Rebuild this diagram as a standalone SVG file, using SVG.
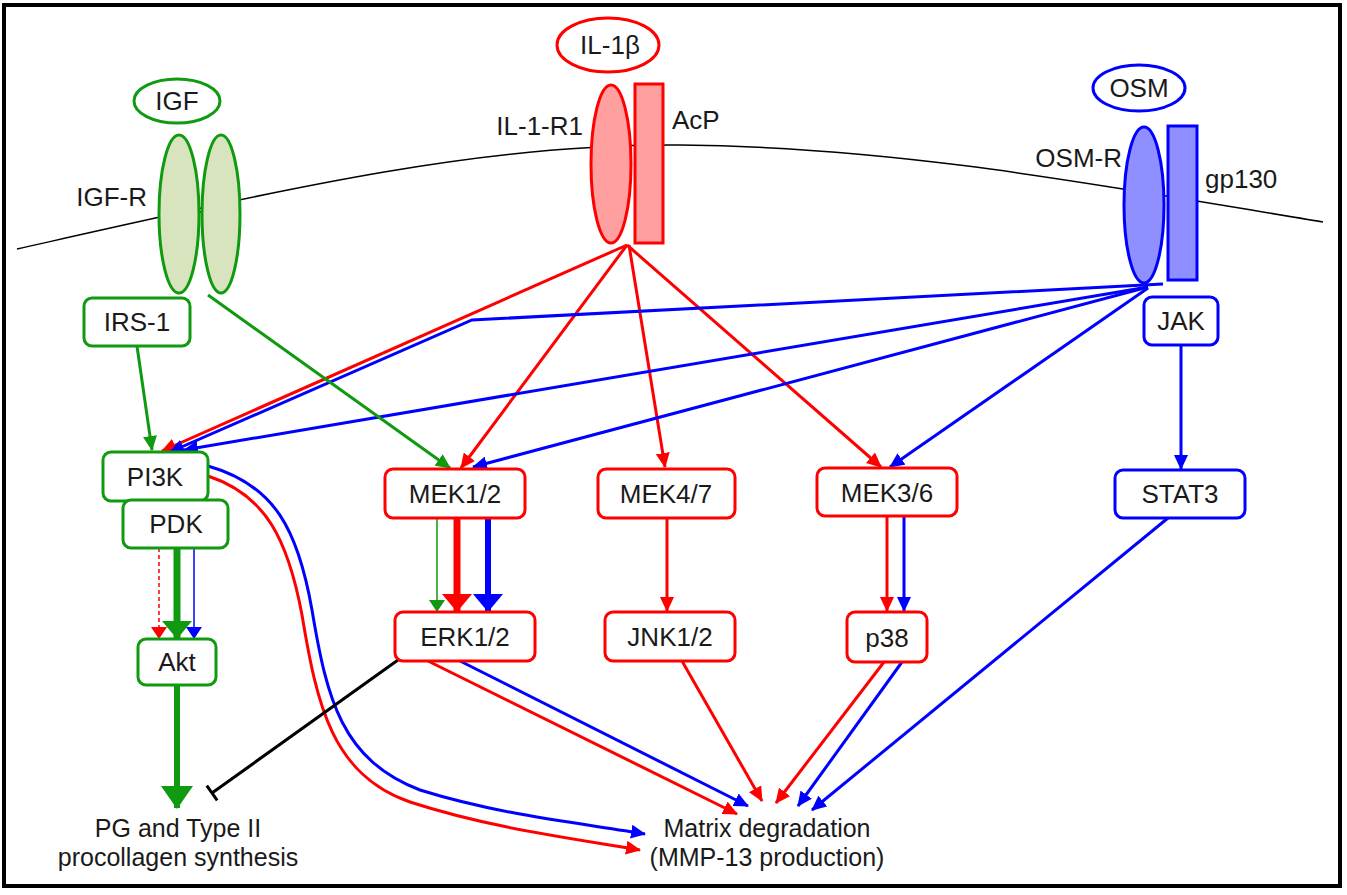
<svg xmlns="http://www.w3.org/2000/svg" width="1347" height="895" viewBox="0 0 1347 895">
<style>
text{font-family:"Liberation Sans",Arial,sans-serif;font-size:26px;fill:#1a1a1a}
.c{text-anchor:middle}
.e{text-anchor:end}
.out{font-size:25px}
.bx{fill:#fff;stroke-width:3}
.g{stroke:#109a10}
.r{stroke:#ff0000}
.b{stroke:#0000ff}
.ln{fill:none;stroke-width:3}
</style>
<defs>
<marker id="ar" markerUnits="userSpaceOnUse" markerWidth="16" markerHeight="14" refX="14" refY="7" orient="auto"><path d="M0,0L15,7L0,14z" fill="#ff0000"/></marker>
<marker id="ab" markerUnits="userSpaceOnUse" markerWidth="16" markerHeight="14" refX="14" refY="7" orient="auto"><path d="M0,0L15,7L0,14z" fill="#0000ff"/></marker>
<marker id="ag" markerUnits="userSpaceOnUse" markerWidth="16" markerHeight="14" refX="14" refY="7" orient="auto"><path d="M0,0L15,7L0,14z" fill="#109a10"/></marker>
<marker id="sr" markerUnits="userSpaceOnUse" markerWidth="12" markerHeight="16" refX="11" refY="8" orient="auto"><path d="M0,0L12,8L0,16z" fill="#ff0000"/></marker>
<marker id="sb" markerUnits="userSpaceOnUse" markerWidth="12" markerHeight="16" refX="11" refY="8" orient="auto"><path d="M0,0L12,8L0,16z" fill="#0000ff"/></marker>
<marker id="sg" markerUnits="userSpaceOnUse" markerWidth="12" markerHeight="16" refX="11" refY="8" orient="auto"><path d="M0,0L12,8L0,16z" fill="#109a10"/></marker>
<marker id="br" markerUnits="userSpaceOnUse" markerWidth="18" markerHeight="30" refX="17" refY="15" orient="auto"><path d="M0,0L18,15L0,30z" fill="#ff0000"/></marker>
<marker id="bb" markerUnits="userSpaceOnUse" markerWidth="18" markerHeight="30" refX="17" refY="15" orient="auto"><path d="M0,0L18,15L0,30z" fill="#0000ff"/></marker>
<marker id="bg" markerUnits="userSpaceOnUse" markerWidth="18" markerHeight="30" refX="17" refY="15" orient="auto"><path d="M0,0L18,15L0,30z" fill="#109a10"/></marker>
<marker id="hg" markerUnits="userSpaceOnUse" markerWidth="23" markerHeight="32" refX="22" refY="16" orient="auto"><path d="M0,0L23,16L0,32z" fill="#109a10"/></marker>
</defs>
<rect x="4" y="5" width="1336" height="881" fill="#fff" stroke="#000" stroke-width="4"/>
<g id="membrane"><path d="M17,249 C 280,190 480,143 680,145 C 900,147 1100,185 1323,222" fill="none" stroke="#000" stroke-width="1.5"/></g>

<g id="connectors">
<line class="ln r" x1="627" y1="245" x2="162" y2="451" marker-end="url(#ar)"/>
<line class="ln r" x1="627" y1="245" x2="461" y2="468" marker-end="url(#ar)"/>
<line class="ln r" x1="629" y1="245" x2="665" y2="467" marker-end="url(#ar)"/>
<line class="ln r" x1="627" y1="245" x2="881" y2="467" marker-end="url(#ar)"/>
<polyline class="ln b" points="1163,284 472,320 170,452" marker-end="url(#ab)"/>
<line class="ln b" x1="1148" y1="287" x2="184" y2="450" marker-end="url(#ab)"/>
<line class="ln b" x1="1148" y1="287" x2="473" y2="467" marker-end="url(#ab)"/>
<line class="ln b" x1="1148" y1="288" x2="890" y2="467" marker-end="url(#ab)"/>
<line class="ln b" x1="1181" y1="345" x2="1181" y2="469" marker-end="url(#ab)"/>
<line class="ln g" x1="137" y1="346" x2="152" y2="450" marker-end="url(#ag)"/>
<line class="ln g" x1="208" y1="295" x2="450" y2="468" marker-end="url(#ag)"/>
<line class="r" x1="159" y1="548" x2="159" y2="638" stroke-width="1.5" stroke-dasharray="4,3" marker-end="url(#sr)"/>
<line class="g" x1="177" y1="548" x2="177" y2="638" stroke-width="7" marker-end="url(#bg)"/>
<line class="b" x1="194" y1="548" x2="194" y2="638" stroke-width="1.5" marker-end="url(#sb)"/>
<line class="g" x1="177" y1="685" x2="177" y2="808" stroke-width="6" marker-end="url(#hg)"/>
<line class="g" x1="437" y1="518" x2="437" y2="611" stroke-width="1.5" marker-end="url(#sg)"/>
<line class="r" x1="457" y1="518" x2="457" y2="611" stroke-width="7" marker-end="url(#br)"/>
<line class="b" x1="488" y1="518" x2="488" y2="611" stroke-width="6" marker-end="url(#bb)"/>
<line class="ln r" x1="667" y1="518" x2="667" y2="611" marker-end="url(#ar)"/>
<line class="ln r" x1="887" y1="516" x2="887" y2="611" marker-end="url(#ar)"/>
<line class="ln b" x1="904" y1="516" x2="904" y2="611" marker-end="url(#ab)"/>
<path class="ln b" d="M208,466 C 275,485 298,530 312,610 C 327,700 342,760 420,790 C 500,815 580,823 645,834" marker-end="url(#ab)"/>
<path class="ln r" d="M208,476 C 266,495 288,540 302,615 C 317,705 332,775 410,802 C 490,828 570,838 640,850" marker-end="url(#ar)"/>
<line class="ln r" x1="428" y1="661" x2="737" y2="814" marker-end="url(#ar)"/>
<line class="ln b" x1="460" y1="661" x2="748" y2="806" marker-end="url(#ab)"/>
<line class="ln r" x1="682" y1="661" x2="762" y2="801" marker-end="url(#ar)"/>
<line class="ln r" x1="884" y1="662" x2="776" y2="803" marker-end="url(#ar)"/>
<line class="ln b" x1="902" y1="662" x2="798" y2="806" marker-end="url(#ab)"/>
<line class="ln b" x1="1168" y1="518" x2="812" y2="810" marker-end="url(#ab)"/>
<line x1="398" y1="660" x2="212" y2="793" stroke="#000" stroke-width="3"/>
<line x1="206.8" y1="785.7" x2="217.2" y2="800.3" stroke="#000" stroke-width="3"/>
</g>

<g id="IGF"><ellipse cx="177" cy="101" rx="43" ry="22" fill="#fff" stroke="#109a10" stroke-width="3"/><text class="c" x="177" y="110">IGF</text></g>
<g id="IGF-R">
<line x1="198" y1="212" x2="202" y2="212" stroke="#000" stroke-width="1.5"/>
<ellipse cx="179" cy="214" rx="20" ry="79" fill="#d7e4bd" stroke="#109a10" stroke-width="3"/>
<ellipse cx="221" cy="214" rx="19" ry="79" fill="#d7e4bd" stroke="#109a10" stroke-width="3"/>
<text class="e" x="147" y="206">IGF-R</text></g>
<g id="IRS-1"><rect class="bx g" x="84" y="298" width="106" height="48" rx="8"/><text class="c" x="137" y="331">IRS-1</text></g>
<g id="IL-1b"><ellipse cx="608" cy="45" rx="51" ry="27" fill="#fff" stroke="#ff0000" stroke-width="3"/><text class="c" x="610" y="54">IL-1β</text></g>
<g id="IL-1-R1"><ellipse cx="611" cy="164" rx="20" ry="79" fill="#ff9f9f" stroke="#ff0000" stroke-width="3"/><text class="e" x="583" y="135">IL-1-R1</text></g>
<g id="AcP"><rect x="635" y="84" width="28" height="159" fill="#ff9f9f" stroke="#ff0000" stroke-width="3"/><text x="672" y="129">AcP</text></g>
<g id="OSM"><ellipse cx="1139" cy="88" rx="46" ry="23" fill="#fff" stroke="#0000ff" stroke-width="3"/><text class="c" x="1139" y="97">OSM</text></g>
<g id="OSM-R"><ellipse cx="1144" cy="205" rx="20" ry="78" fill="#8f8fff" stroke="#0000ff" stroke-width="3"/><text class="e" x="1122" y="167">OSM-R</text></g>
<g id="gp130"><rect x="1168" y="126" width="29" height="154" fill="#8f8fff" stroke="#0000ff" stroke-width="3"/><text x="1205" y="188">gp130</text></g>
<g id="JAK"><rect class="bx b" x="1144" y="297" width="74" height="48" rx="8"/><text class="c" x="1181" y="330">JAK</text></g>
<g id="PI3K"><rect class="bx g" x="103" y="452" width="105" height="49" rx="8"/><text class="c" x="155" y="486">PI3K</text></g>
<g id="PDK"><rect class="bx g" x="123" y="500" width="105" height="48" rx="8"/><text class="c" x="176" y="533">PDK</text></g>
<g id="Akt"><rect class="bx g" x="138" y="639" width="78" height="46" rx="8"/><text class="c" x="177" y="671">Akt</text></g>
<g id="MEK12"><rect class="bx r" x="385" y="469" width="140" height="49" rx="8"/><text class="c" x="455" y="503">MEK1/2</text></g>
<g id="ERK12"><rect class="bx r" x="395" y="612" width="140" height="49" rx="8"/><text class="c" x="465" y="646">ERK1/2</text></g>
<g id="MEK47"><rect class="bx r" x="598" y="469" width="137" height="49" rx="8"/><text class="c" x="666" y="503">MEK4/7</text></g>
<g id="JNK12"><rect class="bx r" x="605" y="612" width="130" height="49" rx="8"/><text class="c" x="670" y="646">JNK1/2</text></g>
<g id="MEK36"><rect class="bx r" x="817" y="468" width="140" height="48" rx="8"/><text class="c" x="887" y="502">MEK3/6</text></g>
<g id="p38"><rect class="bx r" x="847" y="612" width="80" height="50" rx="8"/><text class="c" x="887" y="647">p38</text></g>
<g id="STAT3"><rect class="bx b" x="1115" y="470" width="130" height="48" rx="8"/><text class="c" x="1180" y="503">STAT3</text></g>
<g id="PG"><text class="c out" x="178" y="837">PG and Type II</text><text class="c out" x="178" y="866">procollagen synthesis</text></g>
<g id="Matrix"><text class="c out" x="767" y="837">Matrix degradation</text><text class="c out" x="767" y="866">(MMP-13 production)</text></g>
</svg>
